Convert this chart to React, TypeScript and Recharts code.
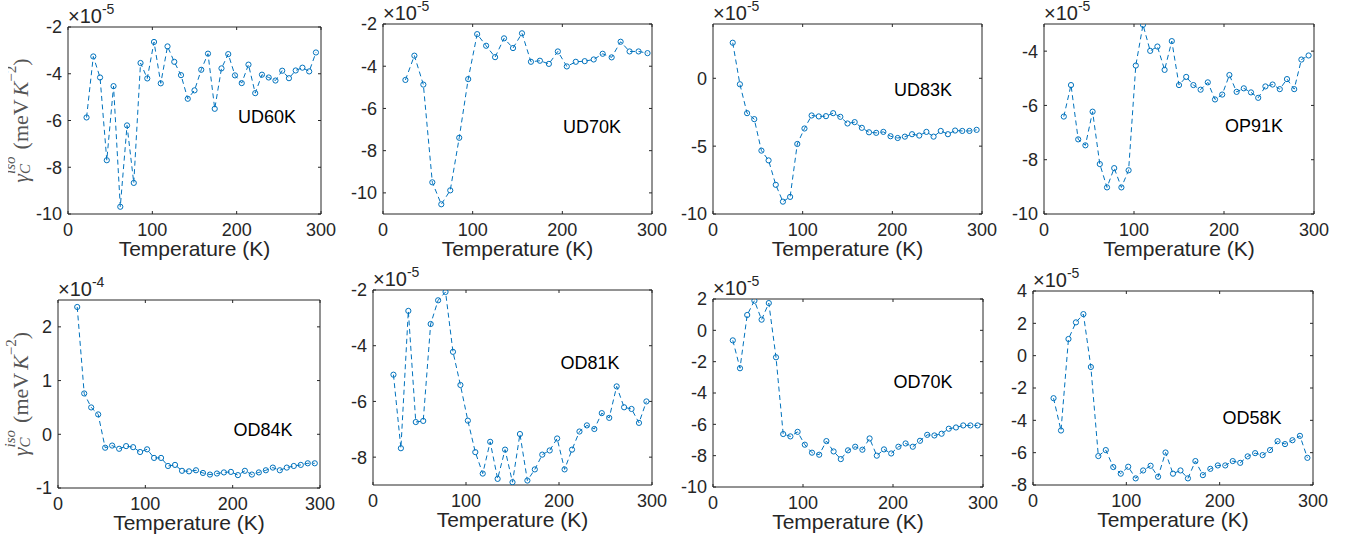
import React from "react";
import { Line, LineChart, XAxis, YAxis, Label } from "recharts";

// temperatures (K)
const temps8 = [
  22, 30, 38, 46, 54, 62, 70, 78, 86, 94, 102, 110, 118, 126, 134, 142, 150, 158,
  166, 174, 182, 190, 198, 206, 214, 222, 230, 238, 246, 254, 262, 270, 278, 286, 294,
];
const temps10 = [
  25, 35, 45, 55, 65, 75, 85, 95, 105, 115, 125, 135, 145, 155, 165, 175, 185, 195,
  205, 215, 225, 235, 245, 255, 265, 275, 285, 295,
];
const xTicks = [0, 100, 200, 300];

// gamma_C^iso, in units of the axis exponent
const ud60k = [
  -5.87, -3.26, -4.16, -7.7, -4.53, -9.69, -6.21, -8.67, -3.54, -4.2, -2.64, -4.41, -2.83,
  -3.49, -4.06, -5.07, -4.71, -3.83, -3.14, -5.5, -3.77, -3.16, -4.07, -4.4, -3.61, -4.83,
  -4.04, -4.16, -4.29, -3.87, -4.19, -3.86, -3.74, -3.9, -3.09,
];
const ud70k = [
  -4.65, -3.5, -4.87, -9.5, -10.54, -9.88, -7.39, -4.61, -2.48, -3.03, -3.57, -2.68, -3.14,
  -2.44, -3.79, -3.74, -3.89, -3.3, -4.01, -3.79, -3.76, -3.68, -3.41, -3.58, -2.84, -3.3,
  -3.3, -3.38,
];
const ud83k = [
  2.62, -0.44, -2.57, -3.01, -5.33, -6.05, -7.85, -9.09, -8.74, -4.84, -3.7, -2.74, -2.81,
  -2.79, -2.57, -2.84, -3.33, -3.23, -3.65, -3.98, -4.02, -3.95, -4.27, -4.4, -4.3, -4.12,
  -4.22, -3.95, -4.3, -3.88, -4.12, -3.85, -3.88, -3.88, -3.8,
];
const op91k = [
  -6.41, -5.25, -7.25, -7.47, -6.23, -8.16, -9.02, -8.31, -9.02, -8.39, -4.53, -3.03, -3.99,
  -3.83, -4.69, -3.63, -5.25, -4.95, -5.25, -5.42, -5.15, -5.78, -5.6, -4.88, -5.5, -5.37,
  -5.52, -5.72, -5.3, -5.23, -5.4, -5.03, -5.4, -4.31, -4.16,
];
const od84k = [
  2.37, 0.76, 0.5, 0.37, -0.25, -0.21, -0.27, -0.22, -0.24, -0.33, -0.28, -0.44, -0.44,
  -0.59, -0.57, -0.68, -0.69, -0.67, -0.72, -0.75, -0.73, -0.71, -0.7, -0.76, -0.68, -0.75,
  -0.71, -0.67, -0.62, -0.67, -0.62, -0.59, -0.57, -0.54, -0.54,
];
const od81k = [
  -5.04, -7.68, -2.75, -6.74, -6.7, -3.22, -2.37, -2.07, -4.22, -5.41, -6.69, -7.82, -8.59,
  -7.45, -8.78, -7.73, -8.9, -7.17, -8.84, -8.44, -7.91, -7.76, -7.33, -8.44, -7.73, -7.08,
  -6.86, -6.99, -6.42, -6.59, -5.46, -6.21, -6.27, -6.77, -6.0,
];
const od70k = [
  -0.64, -2.42, 0.98, 1.89, 0.68, 1.74, -1.72, -6.62, -6.77, -6.48, -7.3, -7.81, -7.94,
  -7.07, -7.73, -8.22, -7.66, -7.43, -7.62, -6.9, -8.0, -7.6, -7.86, -7.43, -7.22, -7.43,
  -7.05, -6.67, -6.71, -6.6, -6.28, -6.2, -6.07, -6.07, -6.07,
];
const od58k = [
  -2.63, -4.63, 1.03, 2.06, 2.57, -0.7, -6.21, -5.84, -6.89, -7.3, -6.87, -7.59, -7.1,
  -6.81, -7.49, -5.99, -7.3, -7.1, -7.59, -6.52, -7.39, -7.0, -6.79, -6.79, -6.52, -6.63,
  -6.23, -6.03, -6.15, -5.84, -5.29, -5.47, -5.23, -4.96, -6.32,
];

const BLUE = "#0072BD";
const INK = "#262626";
const SANS = "'Liberation Sans', Arial, Helvetica, sans-serif";
const SERIF = "'Liberation Serif', 'Times New Roman', serif";

// panel boxes in page pixels (plot area), label centre in page pixels
const panels = [
  { name: "UD60K", temps: temps8, values: ud60k, domain: [-10, -2], yTicks: [-10, -8, -6, -4, -2], exp: "-5", box: [68, 27, 321, 214], label: [267, 117], yLabel: true },
  { name: "UD70K", temps: temps10, values: ud70k, domain: [-11, -2], yTicks: [-10, -8, -6, -4, -2], exp: "-5", box: [383, 24, 652, 214], label: [592, 127] },
  { name: "UD83K", temps: temps8, values: ud83k, domain: [-10, 4], yTicks: [-10, -5, 0], exp: "-5", box: [713, 24, 982, 214], label: [923, 90] },
  { name: "OP91K", temps: temps8, values: op91k, domain: [-10, -3], yTicks: [-10, -8, -6, -4], exp: "-5", box: [1044, 24, 1314, 214], label: [1254, 126] },
  { name: "OD84K", temps: temps8, values: od84k, domain: [-1, 2.5], yTicks: [-1, 0, 1, 2], exp: "-4", box: [58, 300, 320, 488], label: [263, 430], yLabel: true },
  { name: "OD81K", temps: temps8, values: od81k, domain: [-9, -2], yTicks: [-8, -6, -4, -2], exp: "-5", box: [373, 290, 652, 485], label: [590, 363] },
  { name: "OD70K", temps: temps8, values: od70k, domain: [-10, 2], yTicks: [-10, -8, -6, -4, -2, 0, 2], exp: "-5", box: [713, 299, 983, 487], label: [923, 382] },
  { name: "OD58K", temps: temps8, values: od58k, domain: [-8, 4], yTicks: [-8, -6, -4, -2, 0, 2, 4], exp: "-5", box: [1033, 291, 1313, 485], label: [1252, 418] },
];

const ML = 60;
const MT = 30;
const MR = 24;
const MB = 50;

const noTick = () => <g />;

function Panel({ p }: { p: (typeof panels)[number] }) {
  const [l, t, r, b] = p.box;
  const w = r - l;
  const h = b - t;
  const ox = l - ML;
  const oy = t - MT;
  const data = p.temps.map((temp, i) => ({ t: temp, v: p.values[i] }));
  const tickStyle = { fill: INK, fontSize: 18, fontFamily: SANS };
  const ylx = 20 - ox;
  const yly = MT + h / 2;

  return (
    <div style={{ position: "absolute", left: ox, top: oy }}>
      <LineChart
        width={w + ML + MR}
        height={h + MT + MB}
        data={data}
        margin={{ top: MT - 1, right: MR - 1, bottom: 0, left: 0 }}
      >
        <XAxis
          dataKey="t"
          type="number"
          domain={[0, 300]}
          ticks={xTicks}
          height={MB}
          stroke={INK}
          tickSize={-3}
          tickMargin={12}
          tick={tickStyle}
        >
          <Label
            value="Temperature (K)"
            position="insideBottom"
            offset={8}
            style={{ fill: INK, fontSize: 21, fontFamily: SANS }}
          />
        </XAxis>
        <XAxis
          xAxisId="top"
          orientation="top"
          dataKey="t"
          type="number"
          domain={[0, 300]}
          ticks={xTicks}
          height={1}
          stroke={INK}
          tickSize={-3}
          tick={noTick}
        />
        <YAxis
          type="number"
          domain={p.domain}
          ticks={p.yTicks}
          allowDataOverflow
          width={ML}
          stroke={INK}
          tickSize={-3}
          tickMargin={9}
          tick={tickStyle}
        />
        <YAxis
          yAxisId="right"
          orientation="right"
          type="number"
          domain={p.domain}
          ticks={p.yTicks}
          allowDataOverflow
          width={1}
          stroke={INK}
          tickSize={-3}
          tick={noTick}
        />
        <Line
          dataKey="v"
          stroke={BLUE}
          strokeWidth={1}
          strokeDasharray="5 3.5"
          dot={{ r: 2.6, fill: "none", stroke: BLUE, strokeWidth: 1, strokeDasharray: "none" }}
          isAnimationActive={false}
        />
        <text x={ML} y={MT - 4} fill={INK} fontSize={20} fontFamily={SANS}>
          ×10
          <tspan fontSize={14} dy={-9}>
            {p.exp}
          </tspan>
        </text>
        <text
          x={p.label[0] - ox}
          y={p.label[1] - oy}
          fill="#000"
          fontSize={18}
          fontFamily={SANS}
          textAnchor="middle"
          dominantBaseline="central"
        >
          {p.name}
        </text>
        {p.yLabel && (
          <text
            x={ylx}
            y={yly}
            transform={`rotate(-90 ${ylx} ${yly})`}
            fill="#555"
            fontSize={22}
            fontFamily={SERIF}
            textAnchor="middle"
            dominantBaseline="central"
          >
            <tspan fontStyle="italic">γ</tspan>
            <tspan fontStyle="italic" fontSize={15} dy={5}>
              C
            </tspan>
            <tspan fontStyle="italic" fontSize={15} dx={-10} dy={-15}>
              iso
            </tspan>
            <tspan dx={7} dy={10}>
              (meV
            </tspan>
            <tspan fontStyle="italic" dx={3}>
              K
            </tspan>
            <tspan fontSize={15} dy={-9}>
              −2
            </tspan>
            <tspan dy={9}>)</tspan>
          </text>
        )}
      </LineChart>
    </div>
  );
}

export default function App() {
  return (
    <div
      style={{
        position: "absolute",
        left: 0,
        top: 0,
        width: 1348,
        height: 543,
        overflow: "hidden",
        background: "#fff",
      }}
    >
      {panels.map((p) => (
        <Panel key={p.name} p={p} />
      ))}
    </div>
  );
}
